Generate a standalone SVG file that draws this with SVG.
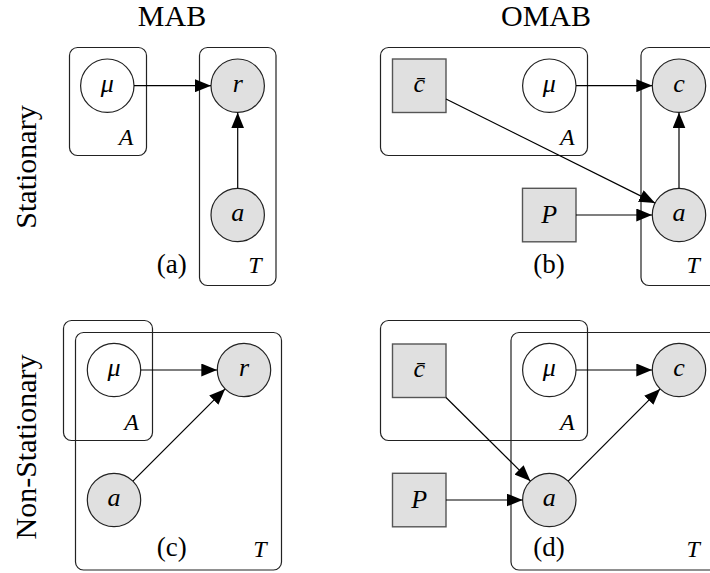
<svg xmlns="http://www.w3.org/2000/svg" width="710" height="573" viewBox="0 0 710 573" font-family="'Liberation Serif', 'Times New Roman', serif">
<style>
text{font-family:'Liberation Serif','Times New Roman',serif;fill:#000}
.title{font-size:30px;text-anchor:middle}
.row{font-size:30px;text-anchor:middle}
.pl{font-size:24px;font-style:italic;text-anchor:middle}
.cap{font-size:27px;text-anchor:middle}
.nl{font-size:26px;font-style:italic;text-anchor:middle}
.plate{fill:none;stroke:#222;stroke-width:1.2}
.obs{fill:#e0e0e0;stroke:#222;stroke-width:1.2}
.lat{fill:#fff;stroke:#222;stroke-width:1.2}
.fix{fill:#e0e0e0;stroke:#555;stroke-width:1.4}
.edge{fill:none;stroke:#000;stroke-width:1.2;marker-end:url(#ah)}
</style>
<defs>
<marker id="ah" markerUnits="userSpaceOnUse" markerWidth="16" markerHeight="13" refX="16" refY="6.5" orient="auto">
<path d="M0,0 L16,6.5 L0,13 z" fill="#000"/>
</marker>
</defs>
<text class="title" x="172" y="26">MAB</text>
<text class="title" x="546" y="26">OMAB</text>
<text class="row" transform="translate(36,167) rotate(-90)">Stationary</text>
<text class="row" transform="translate(36,447) rotate(-90)">Non-Stationary</text>

<!-- Panel (a) -->
<g id="a-plateA"><rect class="plate" x="69.5" y="47.5" width="77" height="108" rx="8"/><text class="pl" x="126" y="145">A</text></g>
<g id="a-plateT"><rect class="plate" x="199.5" y="47.5" width="76.5" height="238" rx="8"/><text class="pl" x="255" y="273">T</text></g>
<g id="a-mu"><circle class="lat" cx="107.3" cy="85.7" r="26.7"/><text class="nl" x="107.3" y="92">μ</text></g>
<g id="a-r"><circle class="obs" cx="237.7" cy="85.7" r="26.7"/><text class="nl" x="237.7" y="92">r</text></g>
<g id="a-a"><circle class="obs" cx="237.7" cy="215" r="26.7"/><text class="nl" x="237.7" y="221">a</text></g>
<text class="cap" x="171.7" y="273">(a)</text>

<!-- Panel (b) -->
<g id="b-plateA"><rect class="plate" x="380.5" y="47.5" width="207" height="108" rx="8"/><text class="pl" x="567.3" y="145">A</text></g>
<g id="b-plateT"><rect class="plate" x="641" y="47.5" width="100" height="238" rx="8"/><text class="pl" x="693.3" y="273">T</text></g>
<g id="b-cbar"><rect class="fix" x="392.5" y="59" width="53.5" height="53.5"/><text class="nl" x="419.2" y="92">c̄</text></g>
<g id="b-mu"><circle class="lat" cx="549.3" cy="85.7" r="26.7"/><text class="nl" x="549.3" y="92">μ</text></g>
<g id="b-c"><circle class="obs" cx="679" cy="85.7" r="26.7"/><text class="nl" x="679" y="92">c</text></g>
<g id="b-a"><circle class="obs" cx="679" cy="215" r="26.7"/><text class="nl" x="679" y="221">a</text></g>
<g id="b-P"><rect class="fix" x="522.5" y="188.3" width="53.5" height="53.5"/><text class="nl" x="549.3" y="223">P</text></g>
<text class="cap" x="549" y="273">(b)</text>

<!-- Panel (c) -->
<g id="c-plateA"><rect class="plate" x="63.5" y="320.5" width="89" height="120" rx="8"/><text class="pl" x="131.7" y="430">A</text></g>
<g id="c-plateT"><rect class="plate" x="75.5" y="332.5" width="206" height="237.5" rx="8"/><text class="pl" x="260" y="557">T</text></g>
<g id="c-mu"><circle class="lat" cx="114" cy="370" r="26.7"/><text class="nl" x="114" y="376">μ</text></g>
<g id="c-r"><circle class="obs" cx="244" cy="370" r="26.7"/><text class="nl" x="244" y="376">r</text></g>
<g id="c-a"><circle class="obs" cx="114" cy="500" r="26.7"/><text class="nl" x="114" y="506">a</text></g>
<text class="cap" x="171.7" y="556">(c)</text>

<!-- Panel (d) -->
<g id="d-plateA"><rect class="plate" x="380.5" y="320.5" width="207" height="120" rx="8"/><text class="pl" x="567.3" y="430">A</text></g>
<g id="d-plateT"><rect class="plate" x="511" y="332.5" width="230" height="237.5" rx="8"/><text class="pl" x="693.3" y="557">T</text></g>
<g id="d-cbar"><rect class="fix" x="392.5" y="344" width="53.5" height="53.5"/><text class="nl" x="419.2" y="377">c̄</text></g>
<g id="d-mu"><circle class="lat" cx="549.3" cy="370" r="26.7"/><text class="nl" x="549.3" y="376">μ</text></g>
<g id="d-c"><circle class="obs" cx="679" cy="370" r="26.7"/><text class="nl" x="679" y="376">c</text></g>
<g id="d-a"><circle class="obs" cx="549.3" cy="500" r="26.7"/><text class="nl" x="549.3" y="506">a</text></g>
<g id="d-P"><rect class="fix" x="392.5" y="473.3" width="53.5" height="53.5"/><text class="nl" x="419.2" y="508">P</text></g>
<text class="cap" x="549" y="556">(d)</text>

<g id="connectors">
<line class="edge" x1="134" y1="85.7" x2="211" y2="85.7"/>
<line class="edge" x1="237.7" y1="188.3" x2="237.7" y2="112.4"/>
<line class="edge" x1="576" y1="85.7" x2="652.3" y2="85.7"/>
<line class="edge" x1="679" y1="188.3" x2="679" y2="112.4"/>
<line class="edge" x1="446" y1="99" x2="655.1" y2="203.1"/>
<line class="edge" x1="576" y1="215" x2="652.3" y2="215"/>
<line class="edge" x1="140.7" y1="370" x2="217.3" y2="370"/>
<line class="edge" x1="132.9" y1="481.1" x2="225.1" y2="388.9"/>
<line class="edge" x1="576" y1="370" x2="652.3" y2="370"/>
<line class="edge" x1="446" y1="397.5" x2="530.4" y2="481.1"/>
<line class="edge" x1="446" y1="500" x2="522.6" y2="500"/>
<line class="edge" x1="568.2" y1="481.1" x2="660.1" y2="388.9"/>
</g>
</svg>
